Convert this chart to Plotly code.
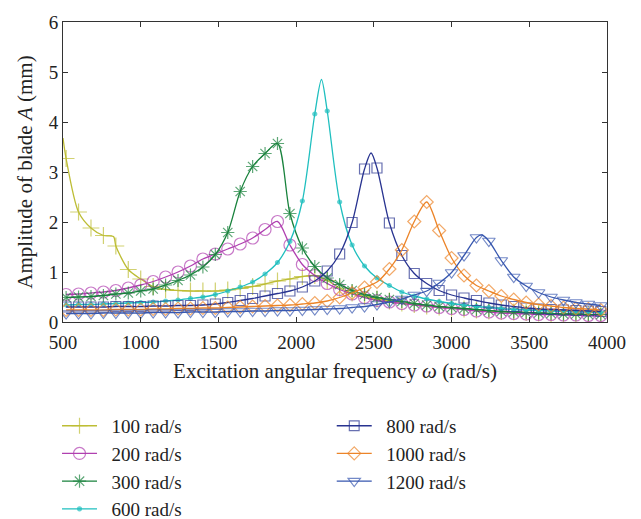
import plotly.graph_objects as go

# Excitation angular frequency grid at the marker positions (rad/s)
omega = list(range(520, 3961, 80))

# Amplitude of blade A (mm) at the marker positions, one list per rotating speed
A100 = [3.27, 2.20, 1.88, 1.73, 1.52, 1.05, 0.86, 0.71, 0.65, 0.63, 0.62, 0.62, 0.62, 0.64, 0.67,
        0.71, 0.76, 0.82, 0.86, 0.91, 0.93, 0.83, 0.68, 0.58, 0.51, 0.46, 0.42, 0.38, 0.35, 0.32,
        0.30, 0.28, 0.26, 0.24, 0.22, 0.21, 0.20, 0.19, 0.18, 0.17, 0.16, 0.15, 0.15, 0.14]
A200 = [0.55, 0.56, 0.58, 0.60, 0.63, 0.68, 0.74, 0.81, 0.90, 1.00, 1.12, 1.26, 1.36, 1.46, 1.56,
        1.68, 1.85, 2.01, 1.54, 1.15, 0.93, 0.77, 0.65, 0.56, 0.49, 0.43, 0.40, 0.37, 0.34, 0.32,
        0.29, 0.27, 0.25, 0.22, 0.20, 0.18, 0.17, 0.16, 0.15, 0.15, 0.14, 0.14, 0.13, 0.13]
A300 = [0.49, 0.50, 0.51, 0.53, 0.56, 0.58, 0.62, 0.66, 0.74, 0.83, 0.94, 1.10, 1.35, 1.79, 2.61,
        3.11, 3.37, 3.57, 2.17, 1.48, 1.11, 0.88, 0.75, 0.63, 0.55, 0.49, 0.45, 0.41, 0.37, 0.34,
        0.31, 0.29, 0.27, 0.25, 0.23, 0.21, 0.20, 0.19, 0.18, 0.17, 0.16, 0.16, 0.15, 0.15]
A600 = [0.34, 0.35, 0.35, 0.36, 0.37, 0.38, 0.39, 0.40, 0.42, 0.44, 0.47, 0.50, 0.55, 0.62, 0.70,
        0.80, 0.96, 1.19, 1.61, 2.42, 4.16, 4.22, 2.40, 1.54, 1.12, 0.88, 0.73, 0.60, 0.52, 0.46,
        0.41, 0.37, 0.34, 0.31, 0.29, 0.27, 0.25, 0.24, 0.23, 0.22, 0.21, 0.20, 0.20, 0.19]
A800 = [0.30, 0.30, 0.30, 0.30, 0.31, 0.31, 0.31, 0.32, 0.32, 0.33, 0.33, 0.34, 0.36, 0.39, 0.43,
        0.47, 0.52, 0.57, 0.62, 0.70, 0.82, 1.02, 1.36, 1.99, 3.06, 3.08, 1.98, 1.33, 0.97, 0.77,
        0.63, 0.54, 0.48, 0.43, 0.38, 0.34, 0.31, 0.28, 0.26, 0.25, 0.24, 0.23, 0.22, 0.21]
A1000 = [0.24, 0.24, 0.24, 0.24, 0.25, 0.25, 0.25, 0.26, 0.26, 0.27, 0.27, 0.28, 0.28, 0.29, 0.30,
         0.31, 0.32, 0.33, 0.34, 0.36, 0.38, 0.42, 0.49, 0.58, 0.69, 0.80, 1.06, 1.44, 2.01, 2.40,
         1.83, 1.28, 0.93, 0.73, 0.62, 0.52, 0.45, 0.39, 0.35, 0.32, 0.29, 0.27, 0.26, 0.24]
A1200 = [0.17, 0.17, 0.17, 0.18, 0.18, 0.18, 0.18, 0.19, 0.19, 0.19, 0.20, 0.20, 0.20, 0.21, 0.21,
         0.22, 0.22, 0.23, 0.23, 0.24, 0.25, 0.26, 0.27, 0.29, 0.31, 0.35, 0.40, 0.46, 0.54, 0.62,
         0.78, 0.99, 1.33, 1.69, 1.62, 1.23, 0.90, 0.72, 0.59, 0.50, 0.44, 0.39, 0.36, 0.33]

# Extra curve points (no marker drawn there): (omega, A)
extra100 = [(500, 3.68), (825, 1.71)]
extra600 = [(2163, 4.85)]
extra800 = [(2482, 3.38)]
extra1200 = [(3195, 1.74)]

names = ["100 rad/s", "200 rad/s", "300 rad/s", "600 rad/s",
         "800 rad/s", "1000 rad/s", "1200 rad/s"]
values = [A100, A200, A300, A600, A800, A1000, A1200]
extras = [extra100, [], [], extra600, extra800, [], extra1200]
colors = ["#bdbd35", "#b040b0", "#18823c", "#1fbfbf", "#283390", "#ec8428", "#3757af"]
symbols = ["cross-thin-open", "circle-open", "asterisk-open", "circle",
           "square-open", "diamond-open", "triangle-down-open"]
msizes = [12, 12, 11, 4, 10, 10, 11]
legends = ["legend", "legend", "legend", "legend", "legend2", "legend2", "legend2"]

FONT = "Liberation Serif"

fig = go.Figure()
for name, vals, ext, col, sym, ms, lg in zip(names, values, extras, colors, symbols, msizes, legends):
    pts = [(x, y, ms) for x, y in zip(omega, vals)] + [(x, y, 0) for x, y in ext]
    pts.sort(key=lambda p: p[0])
    fig.add_trace(go.Scatter(
        x=[p[0] for p in pts], y=[p[1] for p in pts],
        mode="lines+markers", name="\u2002" + name, legend=lg,
        line=dict(color=col, width=1.3, shape="spline", smoothing=0.8),
        marker=dict(symbol=sym, size=[p[2] for p in pts], color=col,
                    line=dict(color=col, width=1.2)),
        cliponaxis=True,
    ))

axis_common = dict(showline=True, linecolor="#333333", linewidth=1, mirror="ticks",
                   ticks="inside", ticklen=5, tickcolor="#333333", showgrid=False,
                   zeroline=False, tickfont=dict(family=FONT, size=19, color="#222222"))

legend_common = dict(xref="paper", yref="container", xanchor="left", yanchor="top",
                     font=dict(family=FONT, size=19, color="#222222"),
                     itemwidth=35, bgcolor="rgba(0,0,0,0)", tracegroupgap=0)

fig.update_layout(
    width=641, height=519,
    margin=dict(l=63, r=34, t=15, b=197),
    paper_bgcolor="white", plot_bgcolor="white",
    font=dict(family=FONT, size=19, color="#222222"),
    xaxis=dict(range=[500, 4000], tickvals=[500, 1000, 1500, 2000, 2500, 3000, 3500, 4000],
               ticklabelstandoff=3,
               title=dict(text="Excitation angular frequency <i>ω</i> (rad/s)",
                          font=dict(family=FONT, size=21, color="#222222"), standoff=11),
               **axis_common),
    yaxis=dict(range=[0, 6], tickvals=[0, 1, 2, 3, 4, 5, 6],
               title=dict(text="Amplitude of blade <i>A</i> (mm)",
                          font=dict(family=FONT, size=21, color="#222222"), standoff=10),
               **axis_common),
    legend=dict(x=-0.011, y=0.216, **legend_common),
    legend2=dict(x=0.494, y=0.216, **legend_common),
    showlegend=True,
)

fig.write_html("out.html")
